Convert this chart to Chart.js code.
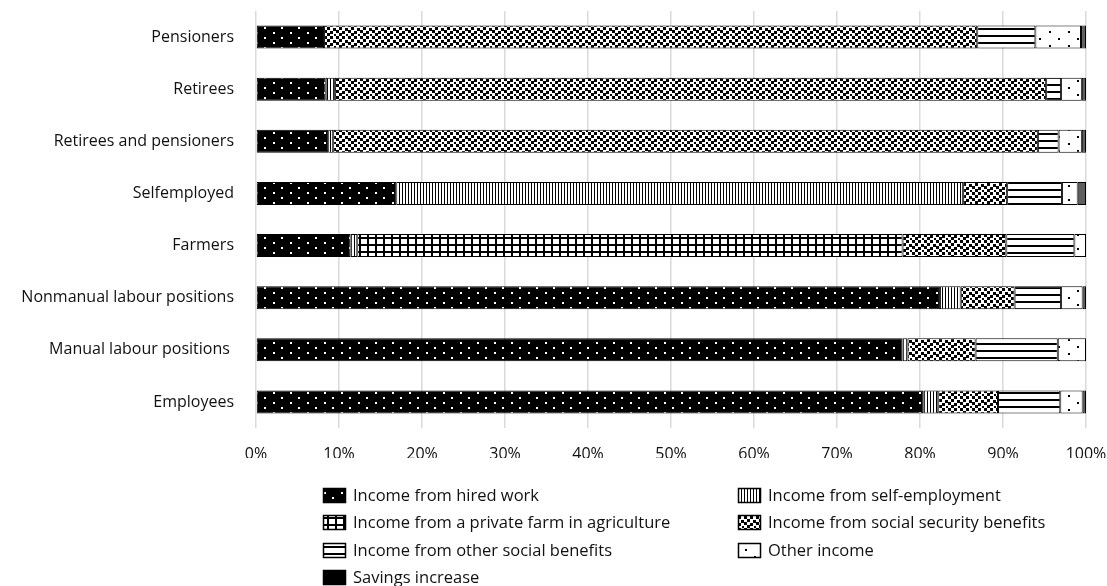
<!DOCTYPE html>
<html>
<head>
<meta charset="utf-8">
<script src="https://cdn.jsdelivr.net/npm/chart.js@4/dist/chart.umd.min.js"></script>
<style>
  html, body { margin: 0; padding: 0; background: #fff; }
  #wrap { width: 1107px; height: 586px; }
</style>
</head>
<body>
<div id="wrap"><canvas id="barChart" width="1107" height="586"></canvas></div>
<script>
const categories = ['Pensioners', 'Retirees', 'Retirees and pensioners', 'Selfemployed', 'Farmers',
    'Nonmanual labour positions', 'Manual labour positions ', 'Employees'];
const hiredWork = [8.2, 8.4, 8.7, 16.9, 11.4, 82.4, 77.9, 80.4];
const selfEmployment = [0, 1.1, 0.6, 68.3, 0.8, 2.5, 0.6, 1.8];
const privateFarm = [0, 0, 0, 0, 65.7, 0, 0, 0];
const socialSecurity = [78.7, 85.7, 84.9, 5.3, 12.5, 6.5, 8.2, 7.2];
const otherSocial = [7.0, 1.8, 2.5, 6.6, 8.2, 5.6, 9.9, 7.5];
const otherIncome = [5.5, 2.5, 2.8, 1.9, 1.4, 2.6, 3.4, 2.7];
const savingsIncrease = [0.6, 0.5, 0.5, 1.0, 0, 0.4, 0, 0.4];
const tickLabels = ['0%', '10%', '20%', '30%', '40%', '50%', '60%', '70%', '80%', '90%', '100%'];

const FONT = '"Open Sans", "Noto Sans", sans-serif';

// small canvas patterns to imitate the excel fills
function makePattern(w, h, bg, draw) {
    const c = document.createElement('canvas');
    c.width = w; c.height = h;
    const p = c.getContext('2d');
    p.fillStyle = bg;
    p.fillRect(0, 0, w, h);
    draw(p);
    return document.getElementById('barChart').getContext('2d').createPattern(c, 'repeat');
}

const patHired = makePattern(17, 10, '#000', p => {
    p.fillStyle = '#fff';
    p.fillRect(1, 2, 2, 2);
    p.fillRect(9, 7, 2, 2);
});
const patSelf = makePattern(3, 4, '#fff', p => {
    p.fillStyle = '#000';
    p.fillRect(0, 0, 1, 4);
});
const patFarm = makePattern(8, 7, '#000', p => {
    p.fillStyle = '#fff';
    p.fillRect(1, 1, 6, 5);
});
const patSocial = makePattern(12, 12, '#fff', p => {
    p.fillStyle = '#000';
    [[0, 0], [6, 0], [3, 3], [9, 4], [0, 6], [6, 7], [3, 9], [10, 10]].forEach(d => p.fillRect(d[0], d[1], 3, 3));
});
const patOtherSocial = makePattern(4, 7, '#fff', p => {
    p.fillStyle = '#000';
    p.fillRect(0, 0, 4, 2);
});
const patOther = makePattern(19, 14, '#fff', p => {
    p.fillStyle = '#000';
    p.fillRect(4, 3, 2, 2);
    p.fillRect(13, 10, 2, 2);
});

const series = [
    { label: 'Income from hired work', data: hiredWork, fill: patHired },
    { label: 'Income from self-employment', data: selfEmployment, fill: patSelf },
    { label: 'Income from a private farm in agriculture', data: privateFarm, fill: patFarm },
    { label: 'Income from social security benefits', data: socialSecurity, fill: patSocial },
    { label: 'Income from other social benefits', data: otherSocial, fill: patOtherSocial },
    { label: 'Other income', data: otherIncome, fill: patOther },
    { label: 'Savings increase', data: savingsIncrease, fill: '#5f5f5f', legendFill: '#000' }
];

// legend drawn by hand in two columns, like the original
const legendTwoCols = {
    id: 'legendTwoCols',
    afterDraw(chart) {
        const c = chart.ctx;
        const a = chart.chartArea;
        const cols = [a.left + 67, a.left + 482];
        const rowY = [495, 522, 550, 577];
        c.save();
        c.font = '16.5px ' + FONT;
        c.textBaseline = 'middle';
        series.forEach((s, i) => {
            const x = cols[i % 2];
            const y = rowY[Math.floor(i / 2)];
            c.fillStyle = s.legendFill || s.fill;
            c.fillRect(x, y - 7, 23, 15);
            c.strokeStyle = '#000';
            c.lineWidth = 1.5;
            c.strokeRect(x + 0.5, y - 6.5, 22, 14);
            c.fillStyle = '#111';
            c.fillText(s.label, x + 30, y + 1);
        });
        c.restore();
    }
};

const ctx = document.getElementById('barChart').getContext('2d');
const barChart = new Chart(ctx, {
    type: 'bar',
    data: {
        labels: categories,
        datasets: series.map(s => ({
            label: s.label,
            data: s.data,
            backgroundColor: s.fill,
            borderColor: '#000',
            borderWidth: 1,
            borderSkipped: false,
            barPercentage: 0.44,
            categoryPercentage: 1
        }))
    },
    options: {
        indexAxis: 'y',
        responsive: false,
        animation: false,
        layout: {
            padding: { top: 11, right: 21, bottom: 128, left: 0 }
        },
        plugins: {
            legend: { display: false },
            tooltip: { enabled: false }
        },
        scales: {
            x: {
                stacked: true,
                min: 0,
                max: 100,
                border: { display: false },
                grid: {
                    color: '#dadada',
                    lineWidth: 1.5,
                    drawTicks: false
                },
                ticks: {
                    stepSize: 10,
                    padding: 17,
                    color: '#111',
                    font: { family: FONT, size: 16 },
                    callback: (v, i) => tickLabels[i]
                },
                afterFit: scale => {
                    scale.height = 30;
                    scale.paddingLeft = 0;
                    scale.paddingRight = 0;
                }
            },
            y: {
                stacked: true,
                border: { display: false },
                grid: { display: false, drawTicks: false },
                ticks: {
                    padding: 22,
                    color: '#111',
                    font: { family: FONT, size: 16 }
                },
                afterFit: scale => {
                    scale.width = 256;
                    scale.paddingTop = 0;
                    scale.paddingBottom = 0;
                }
            }
        }
    },
    plugins: [legendTwoCols]
});
</script>
</body>
</html>
